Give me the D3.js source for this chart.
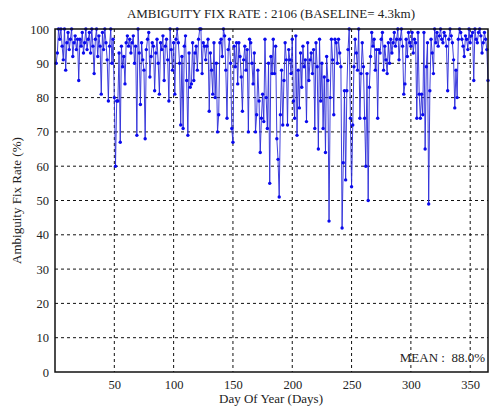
<!DOCTYPE html>
<html>
<head>
<meta charset="utf-8">
<script src="https://cdn.jsdelivr.net/npm/d3@7"></script>
<style>
  body { margin: 0; background: #fff; }
  text { font-family: "Liberation Serif", "Times New Roman", serif; fill: #222; }
</style>
</head>
<body>
<div id="chart"></div>
<script>
const title = 'AMBIGUITY FIX RATE : 2106 (BASELINE= 4.3km)'
const xLabel = 'Day Of Year (Days)'
const yLabel = 'Ambiguity Fix Rate (%)'
const meanLabel = 'MEAN :  88.0%'
const xTicks = [50, 100, 150, 200, 250, 300, 350]
const yTicks = [0, 10, 20, 30, 40, 50, 60, 70, 80, 90, 100]

// fix rate per day (day 1 .. 365)
const fixRate = [
  90, 93, 100, 97, 100, 95, 91, 100, 88, 96,
  99, 94, 97, 100, 92, 96, 98, 94, 97, 85,
  97, 95, 99, 93, 96, 100, 94, 97, 99, 93,
  100, 95, 87, 97, 100, 92, 98, 95, 81, 99,
  94, 100, 96, 91, 79, 95, 100, 90, 97, 80,
  60, 79, 79, 93, 67, 95, 89, 92, 84, 96,
  98, 95, 97, 93, 96, 98, 90, 95, 69, 100,
  93, 78, 96, 91, 88, 68, 94, 97, 99, 86,
  92, 96, 95, 82, 93, 97, 90, 81, 96, 94,
  98, 85, 95, 97, 91, 79, 100, 94, 88, 96,
  81, 97, 100, 96, 90, 72, 92, 71, 95, 98,
  85, 69, 93, 83, 84, 96, 85, 93, 95, 88,
  97, 100, 100, 87, 96, 95, 91, 95, 97, 76,
  93, 88, 81, 96, 80, 90, 70, 75, 96, 97,
  92, 100, 98, 88, 74, 94, 97, 90, 71, 67,
  95, 89, 96, 84, 96, 92, 86, 76, 91, 95,
  88, 94, 70, 97, 96, 90, 84, 93, 70, 75,
  88, 79, 64, 74, 81, 73, 97, 80, 71, 90,
  55, 92, 87, 97, 87, 95, 68, 62, 51, 75,
  88, 72, 85, 96, 91, 72, 94, 91, 87, 97,
  79, 74, 98, 69, 88, 77, 93, 83, 95, 89,
  91, 73, 96, 85, 91, 93, 87, 94, 71, 96,
  89, 65, 97, 79, 90, 71, 86, 64, 92, 85,
  44, 80, 97, 91, 75, 97, 96, 90, 97, 93,
  89, 42, 61, 82, 56, 82, 94, 100, 74, 54,
  72, 89, 97, 93, 88, 100, 74, 87, 96, 89,
  74, 60, 87, 50, 83, 92, 99, 95, 97, 88,
  94, 74, 94, 93, 97, 99, 88, 95, 91, 87,
  96, 90, 97, 93, 96, 99, 95, 97, 100, 91,
  97, 100, 95, 81, 84, 97, 92, 99, 96, 95,
  99, 93, 97, 96, 74, 99, 81, 74, 81, 75,
  99, 65, 89, 96, 49, 82, 97, 93, 87, 100,
  96, 99, 95, 98, 100, 97, 96, 99, 98, 95,
  82, 97, 100, 98, 96, 91, 77, 88, 80, 97,
  100, 99, 97, 95, 92, 98, 97, 94, 100, 96,
  98, 99, 85, 100, 97, 96, 99, 100, 98, 93,
  96, 99, 97, 94, 85
]

const width = 491, height = 409
const margin = { top: 29, right: 3, bottom: 37, left: 55 }
const innerW = width - margin.left - margin.right
const innerH = height - margin.top - margin.bottom

const svg = d3.select('#chart').append('svg')
  .attr('width', width)
  .attr('height', height)

const g = svg.append('g')
  .attr('transform', `translate(${margin.left},${margin.top})`)

const x = d3.scaleLinear().domain([0, 365]).range([0, innerW])
const y = d3.scaleLinear().domain([0, 100]).range([innerH, 0])

// dashed grid
g.selectAll('line.gx')
  .data(xTicks)
  .join('line')
  .attr('class', 'gx')
  .attr('x1', d => x(d)).attr('x2', d => x(d))
  .attr('y1', 0).attr('y2', innerH)
  .attr('stroke', '#111').attr('stroke-width', 1)
  .attr('stroke-dasharray', '3,3')
g.selectAll('line.gy')
  .data(yTicks.filter(d => d > 0 && d < 100))
  .join('line')
  .attr('class', 'gy')
  .attr('x1', 0).attr('x2', innerW)
  .attr('y1', d => y(d)).attr('y2', d => y(d))
  .attr('stroke', '#111').attr('stroke-width', 1)
  .attr('stroke-dasharray', '3,3')

// series
const pts = fixRate.map((v, i) => ({ day: i + 1, v }))
const line = d3.line().x(d => x(d.day)).y(d => y(d.v))
g.append('path')
  .datum(pts)
  .attr('d', line)
  .attr('fill', 'none')
  .attr('stroke', '#2a2ad8')
  .attr('stroke-width', 0.9)
g.selectAll('circle')
  .data(pts)
  .join('circle')
  .attr('cx', d => x(d.day))
  .attr('cy', d => y(d.v))
  .attr('r', 1.7)
  .attr('fill', '#0a0aee')

// axes
const xAxis = g.append('g')
  .attr('transform', `translate(0,${innerH})`)
  .call(d3.axisBottom(x).tickValues(xTicks).tickSize(0).tickPadding(8))
const yAxis = g.append('g')
  .call(d3.axisLeft(y).tickValues(yTicks).tickSize(0).tickPadding(6))
;[xAxis, yAxis].forEach(a => {
  a.select('.domain').remove()
  a.selectAll('text')
    .style('font-family', '"Liberation Serif", serif')
    .style('font-size', '12.5px')
    .attr('fill', '#222')
})

// box
g.append('rect')
  .attr('width', innerW).attr('height', innerH)
  .attr('fill', 'none')
  .attr('stroke', '#111').attr('stroke-width', 1.5)

// labels
svg.append('text')
  .attr('x', 271).attr('y', 18)
  .attr('text-anchor', 'middle')
  .style('font-size', '13px')
  .text(title)
svg.append('text')
  .attr('x', 271).attr('y', 403)
  .attr('text-anchor', 'middle')
  .style('font-size', '13px')
  .text(xLabel)
svg.append('text')
  .attr('transform', `translate(21,${margin.top + innerH / 2}) rotate(-90)`)
  .attr('text-anchor', 'middle')
  .style('font-size', '13px')
  .text(yLabel)
svg.append('text')
  .attr('x', margin.left + innerW - 3).attr('y', 362)
  .attr('text-anchor', 'end')
  .style('font-size', '13px')
  .style('white-space', 'pre')
  .text(meanLabel)
</script>
</body>
</html>
